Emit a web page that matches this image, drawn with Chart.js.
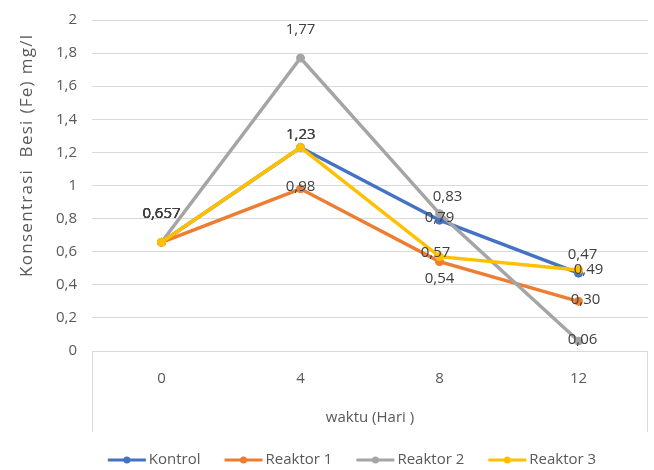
<!DOCTYPE html>
<html>
<head>
<meta charset="utf-8">
<script src="https://cdn.jsdelivr.net/npm/chart.js@4"></script>
<style>
  html, body { margin: 0; padding: 0; background: #fff; }
  #wrap { width: 654px; height: 470px; }
</style>
</head>
<body>
<div id="wrap"><canvas id="myChart" width="654" height="470"></canvas></div>
<script>
//categories (hari)
const days = ["0", "4", "8", "12"];

//series values, mg/l
const kontrol = [0.657, 1.23, 0.79, 0.47];
const reaktor1 = [0.657, 0.98, 0.54, 0.30];
const reaktor2 = [0.657, 1.77, 0.83, 0.06];
const reaktor3 = [0.657, 1.23, 0.57, 0.49];

//y axis ticks
const yMin = 0;
const yMax = 2;
const yStep = 0.2;

const seriesNames = ["Kontrol", "Reaktor 1", "Reaktor 2", "Reaktor 3"];
const seriesColors = ["#4472C4", "#ED7D31", "#A5A5A5", "#FFC000"];

//where each data label sits relative to its point (dx, dy in px)
const labelShift = [
  [[0, -29], [0, -13], [0, -3], [4, -18]],
  [[0, -29], [0, -2], [0, 17], [7, -2]],
  [[0, -29], [0, -28], [8, -17], [4, -1]],
  [[0, -29], [0.6, -13], [-4, -4], [10, 0]]
];

const FONT = "'Open Sans', sans-serif";
const TEXT_GREY = "#595959";

function fmt(v) {
  let s = (Math.round(v * 1000) % 10 !== 0) ? v.toFixed(3) : v.toFixed(2);
  return s.replace(".", ",");
}

//draws labels, titles, the box under the plot and the legend
const extras = {
  id: "extras",
  afterDatasetsDraw(chart) {
    const ctx = chart.ctx;
    ctx.save();
    ctx.font = "15px " + FONT;
    ctx.fillStyle = "#404040";
    ctx.textAlign = "center";
    ctx.textBaseline = "middle";
    chart.data.datasets.forEach((ds, di) => {
      const meta = chart.getDatasetMeta(di);
      meta.data.forEach((pt, i) => {
        const sh = labelShift[di][i];
        ctx.fillText(fmt(ds.data[i]), pt.x + sh[0], pt.y + sh[1]);
      });
    });
    ctx.restore();
  },
  afterDraw(chart) {
    const ctx = chart.ctx;
    const area = chart.chartArea;
    ctx.save();

    //box below the x axis
    ctx.strokeStyle = "#d9d9d9";
    ctx.lineWidth = 1;
    ctx.beginPath();
    ctx.moveTo(Math.round(area.left) + 0.5, area.bottom);
    ctx.lineTo(Math.round(area.left) + 0.5, 432);
    ctx.moveTo(Math.round(area.right) - 0.5, area.bottom);
    ctx.lineTo(Math.round(area.right) - 0.5, 432);
    ctx.stroke();

    //x title
    ctx.fillStyle = TEXT_GREY;
    ctx.font = "15px " + FONT;
    ctx.textAlign = "center";
    ctx.textBaseline = "middle";
    ctx.fillText("waktu (Hari )", (area.left + area.right) / 2, 418);

    //y title, stretched a little to the length it has in the original
    const yTitle = "Konsentrasi  Besi (Fe) mg/l";
    ctx.font = "17px " + FONT;
    ctx.textBaseline = "alphabetic";
    const w = ctx.measureText(yTitle).width;
    const spacing = Math.max(0, (242 - w) / (yTitle.length - 1));
    ctx.translate(32, 156);
    ctx.rotate(-Math.PI / 2);
    ctx.letterSpacing = spacing + "px";
    ctx.textAlign = "left";
    ctx.fillText(yTitle, -121, 0);
    ctx.setTransform(1, 0, 0, 1, 0, 0);
    ctx.letterSpacing = "0px";

    //legend
    ctx.font = "15px " + FONT;
    ctx.textBaseline = "middle";
    ctx.textAlign = "left";
    const lineLen = 38, gap = 3, itemGap = 24, ly = 460;
    let total = 0;
    const widths = seriesNames.map((n) => ctx.measureText(n).width);
    widths.forEach((tw, i) => {
      total += lineLen + gap + tw + (i < widths.length - 1 ? itemGap : 0);
    });
    let x = 352 - total / 2;
    seriesNames.forEach((name, i) => {
      ctx.strokeStyle = seriesColors[i];
      ctx.fillStyle = seriesColors[i];
      ctx.lineWidth = 3;
      ctx.beginPath();
      ctx.moveTo(x, ly);
      ctx.lineTo(x + lineLen, ly);
      ctx.stroke();
      ctx.beginPath();
      ctx.arc(x + lineLen / 2, ly, 3.5, 0, Math.PI * 2);
      ctx.fill();
      ctx.fillStyle = TEXT_GREY;
      ctx.fillText(name, x + lineLen + gap, ly);
      x += lineLen + gap + widths[i] + itemGap;
    });
    ctx.restore();
  }
};

const allSeries = [kontrol, reaktor1, reaktor2, reaktor3];

const data = {
  labels: days,
  datasets: allSeries.map((vals, i) => ({
    label: seriesNames[i],
    data: vals,
    borderColor: seriesColors[i],
    backgroundColor: seriesColors[i],
    borderWidth: 3.5,
    pointRadius: 4,
    pointBorderWidth: 1,
    tension: 0,
    order: 3 - i
  }))
};

const myChart = new Chart(document.getElementById("myChart").getContext("2d"), {
  type: "line",
  data: data,
  plugins: [extras],
  options: {
    responsive: false,
    animation: false,
    layout: { padding: { left: 0, top: 20, right: 6, bottom: 0 } },
    plugins: {
      legend: { display: false },
      tooltip: { enabled: false }
    },
    scales: {
      x: {
        offset: true,
        grid: { display: false, drawTicks: false },
        border: { display: false },
        ticks: {
          color: TEXT_GREY,
          font: { family: FONT, size: 15 },
          padding: 19
        },
        afterFit(scale) { scale.height = 119; }
      },
      y: {
        min: yMin,
        max: yMax,
        grid: { color: "#d9d9d9", lineWidth: 1, drawTicks: false },
        border: { display: false },
        ticks: {
          stepSize: yStep,
          color: TEXT_GREY,
          font: { family: FONT, size: 15 },
          padding: 15,
          callback: (v) => String(Math.round(v * 10) / 10).replace(".", ",")
        },
        afterFit(scale) {
          scale.width = 92;
          scale.paddingTop = 0;
          scale.paddingBottom = 0;
        }
      }
    }
  }
});
</script>
</body>
</html>
